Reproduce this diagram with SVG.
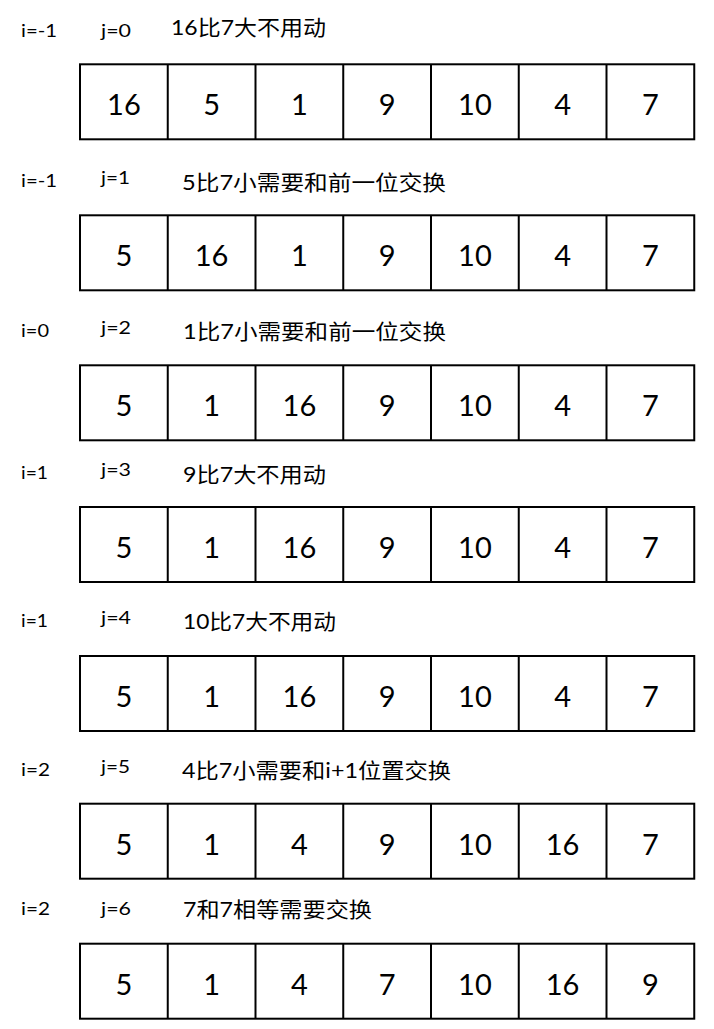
<svg xmlns="http://www.w3.org/2000/svg" width="714" height="1029" viewBox="0 0 714 1029">
<style>
.bg{fill:#fff}
.cell{fill:#fff;stroke:#000;stroke-width:2}
.num{font-family:Lato,"Liberation Sans","Noto Sans CJK SC",sans-serif;font-size:29px;fill:#000;text-anchor:middle}
.lbl{font-family:Lato,"Liberation Sans","Noto Sans CJK SC",sans-serif;font-size:17px;fill:#000}
.desc{font-family:Lato,"Liberation Sans","Noto Sans CJK SC",sans-serif;font-size:21px;fill:#000}
</style>
<defs>
<g id="grid">
<rect class="cell" x="80" y="0" width="614.25" height="75"/>
<path d="M167.75 0V75M255.5 0V75M343.25 0V75M431 0V75M518.75 0V75M606.5 0V75" stroke="#000" stroke-width="2" fill="none"/>
</g>
</defs>
<rect class="bg" width="714" height="1029"/>
<g id="connectors"/>

<g id="step1">
<text class="lbl" x="21" y="36.7" textLength="36" lengthAdjust="spacingAndGlyphs">i=-1</text>
<text class="lbl" x="101" y="36.7" textLength="30" lengthAdjust="spacingAndGlyphs">j=0</text>
<text class="desc" x="171" y="34.5" textLength="155" lengthAdjust="spacingAndGlyphs">16比7大不用动</text>
<use href="#grid" y="64.3"/>
<g transform="translate(0,115.2)">
<text class="num" x="123.9">16</text><text class="num" x="211.6">5</text><text class="num" x="299.4">1</text><text class="num" x="387.1">9</text><text class="num" x="474.9">10</text><text class="num" x="562.6">4</text><text class="num" x="650.4">7</text>
</g>
</g>

<g id="step2">
<text class="lbl" x="21" y="186.7" textLength="36" lengthAdjust="spacingAndGlyphs">i=-1</text>
<text class="lbl" x="101" y="184" textLength="29" lengthAdjust="spacingAndGlyphs">j=1</text>
<text class="desc" x="182" y="189.5" textLength="264" lengthAdjust="spacingAndGlyphs">5比7小需要和前一位交换</text>
<use href="#grid" y="215.3"/>
<g transform="translate(0,266.2)">
<text class="num" x="123.9">5</text><text class="num" x="211.6">16</text><text class="num" x="299.4">1</text><text class="num" x="387.1">9</text><text class="num" x="474.9">10</text><text class="num" x="562.6">4</text><text class="num" x="650.4">7</text>
</g>
</g>

<g id="step3">
<text class="lbl" x="21" y="336.7" textLength="28" lengthAdjust="spacingAndGlyphs">i=0</text>
<text class="lbl" x="101" y="334" textLength="30" lengthAdjust="spacingAndGlyphs">j=2</text>
<text class="desc" x="183" y="339.3" textLength="263" lengthAdjust="spacingAndGlyphs">1比7小需要和前一位交换</text>
<use href="#grid" y="365.3"/>
<g transform="translate(0,416.2)">
<text class="num" x="123.9">5</text><text class="num" x="211.6">1</text><text class="num" x="299.4">16</text><text class="num" x="387.1">9</text><text class="num" x="474.9">10</text><text class="num" x="562.6">4</text><text class="num" x="650.4">7</text>
</g>
</g>

<g id="step4">
<text class="lbl" x="21" y="479" textLength="27" lengthAdjust="spacingAndGlyphs">i=1</text>
<text class="lbl" x="101" y="475.7" textLength="30" lengthAdjust="spacingAndGlyphs">j=3</text>
<text class="desc" x="183" y="481.7" textLength="143" lengthAdjust="spacingAndGlyphs">9比7大不用动</text>
<use href="#grid" y="507"/>
<g transform="translate(0,557.9)">
<text class="num" x="123.9">5</text><text class="num" x="211.6">1</text><text class="num" x="299.4">16</text><text class="num" x="387.1">9</text><text class="num" x="474.9">10</text><text class="num" x="562.6">4</text><text class="num" x="650.4">7</text>
</g>
</g>

<g id="step5">
<text class="lbl" x="21" y="626.7" textLength="27" lengthAdjust="spacingAndGlyphs">i=1</text>
<text class="lbl" x="101" y="624.3" textLength="30" lengthAdjust="spacingAndGlyphs">j=4</text>
<text class="desc" x="183" y="629.3" textLength="153" lengthAdjust="spacingAndGlyphs">10比7大不用动</text>
<use href="#grid" y="656"/>
<g transform="translate(0,706.9)">
<text class="num" x="123.9">5</text><text class="num" x="211.6">1</text><text class="num" x="299.4">16</text><text class="num" x="387.1">9</text><text class="num" x="474.9">10</text><text class="num" x="562.6">4</text><text class="num" x="650.4">7</text>
</g>
</g>

<g id="step6">
<text class="lbl" x="21" y="776" textLength="29" lengthAdjust="spacingAndGlyphs">i=2</text>
<text class="lbl" x="101" y="773.3" textLength="29" lengthAdjust="spacingAndGlyphs">j=5</text>
<text class="desc" x="182" y="778.3" textLength="269" lengthAdjust="spacingAndGlyphs">4比7小需要和i+1位置交换</text>
<use href="#grid" y="803.7"/>
<g transform="translate(0,854.6)">
<text class="num" x="123.9">5</text><text class="num" x="211.6">1</text><text class="num" x="299.4">4</text><text class="num" x="387.1">9</text><text class="num" x="474.9">10</text><text class="num" x="562.6">16</text><text class="num" x="650.4">7</text>
</g>
</g>

<g id="step7">
<text class="lbl" x="21" y="915" textLength="29" lengthAdjust="spacingAndGlyphs">i=2</text>
<text class="lbl" x="101" y="915" textLength="30" lengthAdjust="spacingAndGlyphs">j=6</text>
<text class="desc" x="183" y="916.7" textLength="189" lengthAdjust="spacingAndGlyphs">7和7相等需要交换</text>
<use href="#grid" y="943.7"/>
<g transform="translate(0,994.6)">
<text class="num" x="123.9">5</text><text class="num" x="211.6">1</text><text class="num" x="299.4">4</text><text class="num" x="387.1">7</text><text class="num" x="474.9">10</text><text class="num" x="562.6">16</text><text class="num" x="650.4">9</text>
</g>
</g>
</svg>
